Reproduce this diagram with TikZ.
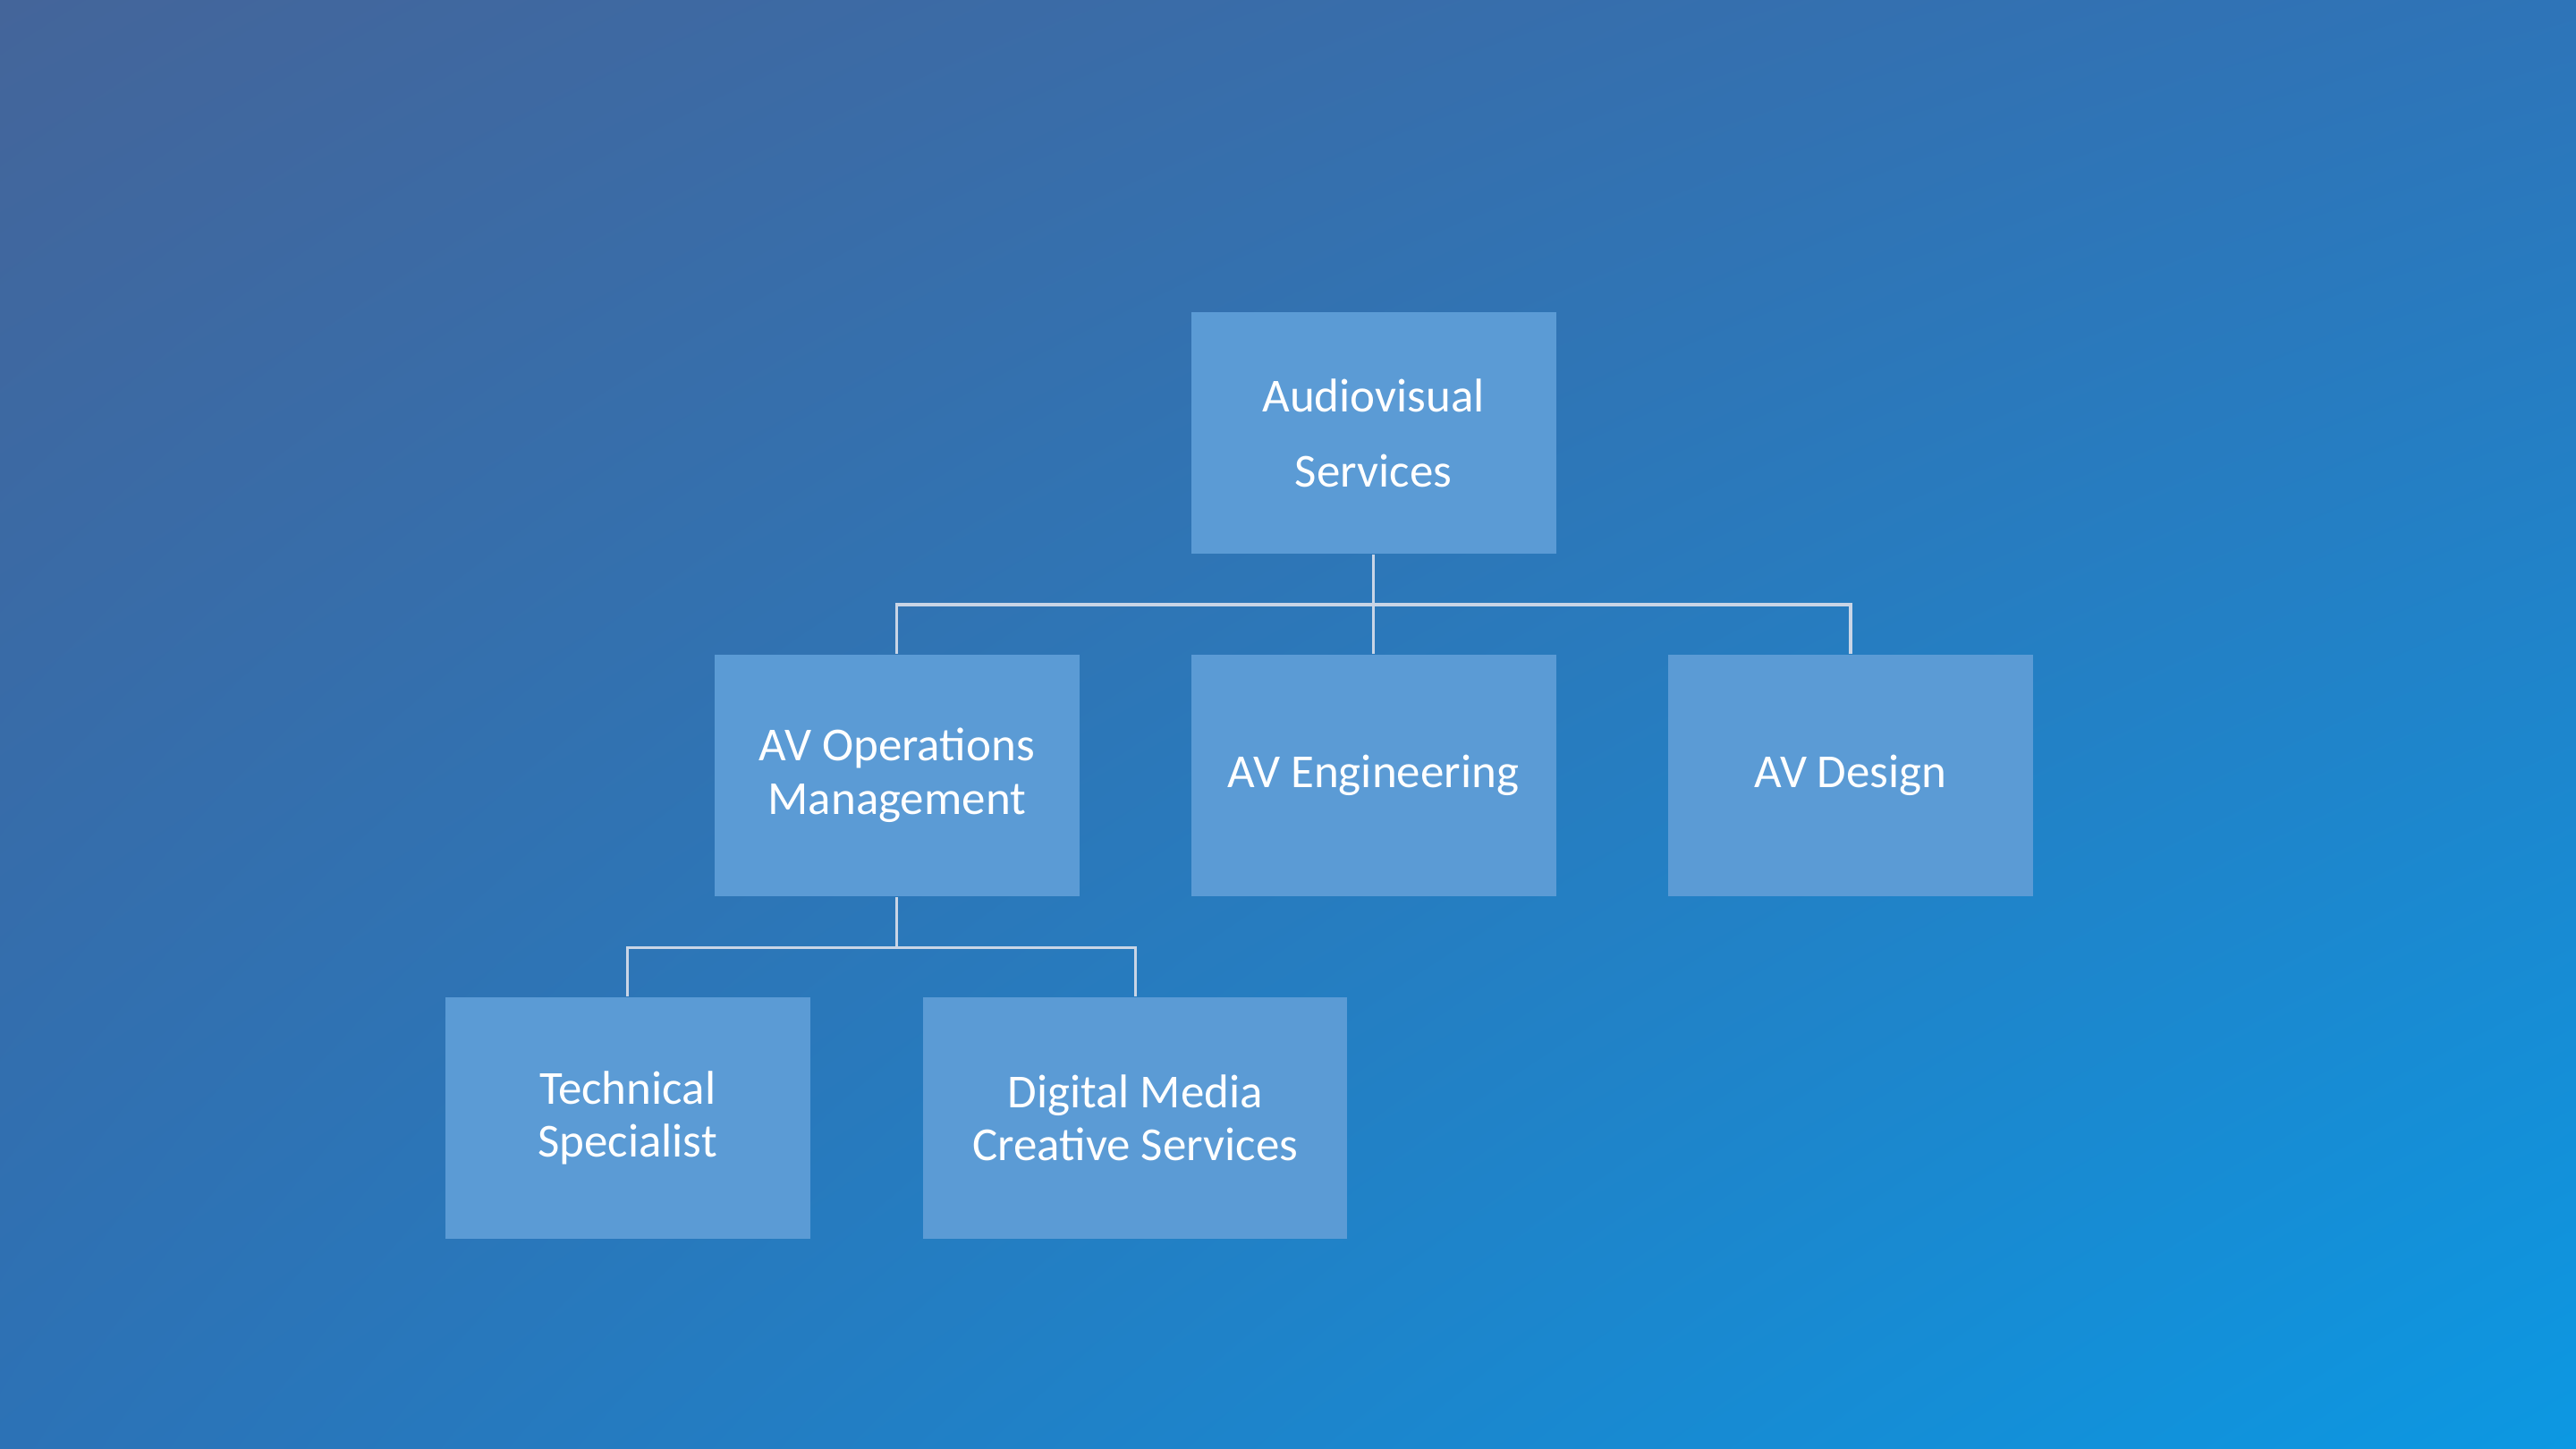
\documentclass[tikz,border=0pt]{standalone}
\usepackage{fontspec}
\setmainfont{Carlito}
\usetikzlibrary{positioning,shadings}
\definecolor{boxblue}{HTML}{5B9BD5}
\definecolor{bgtl}{HTML}{44659A}
\definecolor{bgtr}{HTML}{2E74B8}
\definecolor{bgbl}{HTML}{2C72B6}
\definecolor{bgbr}{HTML}{0C98E2}
\definecolor{linec}{HTML}{C9D5E6}
\begin{document}
\begin{tikzpicture}[x=0.01cm, y=-0.01cm,
  main/.style = {fill=boxblue, text=white, minimum width=2.22cm, minimum height=1.47cm, align=center, inner sep=0pt, font=\fontsize{8.2}{9.2}\selectfont},
  link/.style = {draw=linec, line width=0.5pt}]
	\shade[upper left=bgtl, upper right=bgtr, lower left=bgbl, lower right=bgbr] (0,0) rectangle (1568,882);
	\useasboundingbox (0,0) rectangle (1568,882);
	\node[main, font=\fontsize{8.2}{13}\selectfont] (av) at (836,263.5) {Audiovisual\\Services};
	\node[main] (ops) at (546,472) {AV Operations\\Management};
	\node[main] (eng) at (836,472) {AV Engineering};
	\node[main] (des) at (1126.5,472) {AV Design};
	\node[main] (tech) at (382,680.5) {Technical\\Specialist};
	\node[main, minimum width=2.58cm] (dig) at (691,680.5) {Digital Media\\Creative Services};
	\draw[link] (av.south) -- (eng.north);
	\draw[link] (av.south) |- (836,368) -| (ops.north);
	\draw[link] (av.south) |- (836,368) -| (des.north);
	\draw[link] (ops.south) |- (546,577) -| (tech.north);
	\draw[link] (ops.south) |- (546,577) -| (dig.north);
\end{tikzpicture}
\end{document}
